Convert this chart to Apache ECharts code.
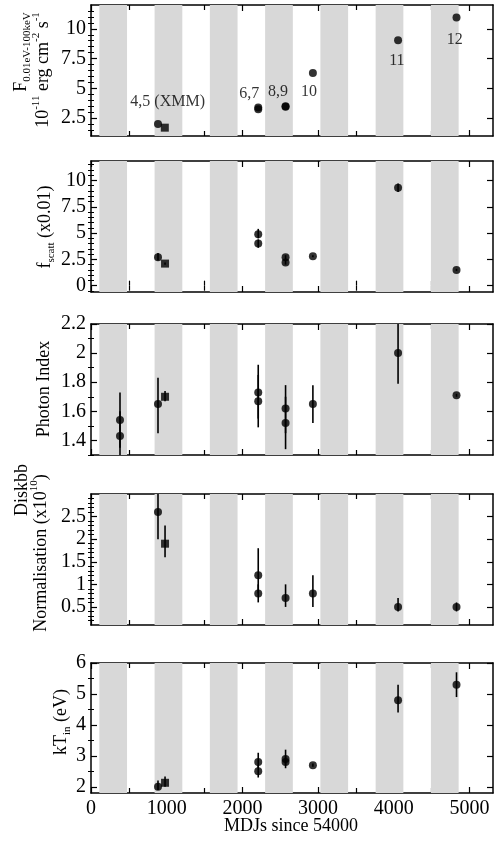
<!DOCTYPE html>
<html><head><meta charset="utf-8">
<script src="https://cdn.jsdelivr.net/npm/echarts@6/dist/echarts.min.js"></script>
<style>html,body{margin:0;padding:0;background:#fff}#c{width:495px;height:846px}</style>
</head><body><div id="c"></div>
<script>
const FONT = '"Liberation Serif", "DejaVu Serif", serif';

// ---------- DATA ----------
const xMajorTicks = [0, 1000, 2000, 3000, 4000, 5000];
const xMinorTicks = [500, 1500, 2500, 3500, 4500];
const seasonBands = [[110, 476], [840, 1206], [1570, 1936], [2300, 2666], [3030, 3396], [3760, 4126], [4490, 4856]];

// Panel 1: flux  [x, y, lo, hi]
const fluxCircles = [[885, 2.0, 2.0, 2.0], [2209, 3.4, 3.4, 3.4], [2209, 3.25, 3.25, 3.25], [2570, 3.45, 3.45, 3.45], [2570, 3.5, 3.5, 3.5], [2931, 6.3, 6.3, 6.3], [4056, 9.05, 9.05, 9.05], [4828, 10.95, 10.95, 10.95]];
const fluxSquares = [[975, 1.7, 1.7, 1.7]];
const fluxLabels = [['4,5 (XMM)', 1013, 3.84], ['6,7', 2090, 4.55], ['8,9', 2470, 4.67], ['10', 2880, 4.67], ['11', 4040, 7.3], ['12', 4806, 9.08]];
const fluxTicks = [2.5, 5, 7.5, 10];
const fluxMinor = [1.5, 2, 3, 3.5, 4, 4.5, 5.5, 6, 6.5, 7, 8, 8.5, 9, 9.5, 10.5, 11, 11.5];

// Panel 2: scattering fraction
const scatCircles = [[885, 2.7, 2.4, 3.1], [2209, 4.9, 4.5, 5.4], [2209, 4.0, 3.6, 4.4], [2570, 2.7, 2.5, 2.9], [2570, 2.2, 2.0, 2.4], [2931, 2.8, 2.7, 2.9], [4056, 9.3, 8.9, 9.7], [4828, 1.5, 1.4, 1.6]];
const scatSquares = [[978, 2.1, 2.0, 2.2]];
const scatTicks = [0, 2.5, 5, 7.5, 10];
const scatMinor = [-0.5, 0.5, 1, 1.5, 2, 3, 3.5, 4, 4.5, 5.5, 6, 6.5, 7, 8, 8.5, 9, 9.5, 10.5, 11, 11.5];

// Panel 3: photon index
const gamCircles = [[383, 1.54, 1.35, 1.73], [383, 1.43, 1.25, 1.6], [885, 1.65, 1.45, 1.83], [2209, 1.73, 1.55, 1.92], [2209, 1.67, 1.49, 1.85], [2570, 1.62, 1.45, 1.78], [2570, 1.52, 1.34, 1.70], [2931, 1.65, 1.52, 1.78], [4056, 2.0, 1.79, 2.25], [4828, 1.71, 1.70, 1.72]];
const gamSquares = [[978, 1.70, 1.67, 1.74]];
const gamTicks = [1.4, 1.6, 1.8, 2, 2.2];
const gamMinor = [1.3, 1.5, 1.7, 1.9, 2.1];

// Panel 4: diskbb normalisation
const normCircles = [[885, 2.6, 2.0, 3.3], [2209, 1.2, 0.8, 1.8], [2209, 0.8, 0.6, 1.0], [2570, 0.7, 0.5, 1.0], [2931, 0.8, 0.5, 1.2], [4056, 0.5, 0.4, 0.7], [4828, 0.5, 0.4, 0.6]];
const normSquares = [[978, 1.9, 1.6, 2.3]];
const normTicks = [0.5, 1, 1.5, 2, 2.5];
const normMinor = [0.2, 0.3, 0.4, 0.6, 0.7, 0.8, 0.9, 1.1, 1.2, 1.3, 1.4, 1.6, 1.7, 1.8, 1.9, 2.1, 2.2, 2.3, 2.4, 2.6, 2.7, 2.8, 2.9];

// Panel 5: inner disc temperature
const ktCircles = [[885, 2.0, 1.9, 2.2], [2209, 2.8, 2.6, 3.1], [2209, 2.5, 2.3, 2.7], [2570, 2.9, 2.7, 3.2], [2570, 2.8, 2.6, 3.0], [2931, 2.7, 2.65, 2.75], [4056, 4.8, 4.4, 5.3], [4828, 5.3, 4.9, 5.7]];
const ktSquares = [[978, 2.13, 2.0, 2.33]];
const ktTicks = [2, 3, 4, 5, 6];
const ktMinor = [2.5, 3.5, 4.5, 5.5];

// ---------- LAYOUT ----------
const xMin = 0, xMax = 5310;
const GL = 91, GW = 402;
const panels = [
  { top: 5,   height: 131, yMin: 1,    yMax: 12,   ticks: fluxTicks, minor: fluxMinor, circles: fluxCircles, squares: fluxSquares, labels: fluxLabels },
  { top: 161, height: 131, yMin: -0.6, yMax: 11.85, ticks: scatTicks, minor: scatMinor, circles: scatCircles, squares: scatSquares },
  { top: 324, height: 131, yMin: 1.3,  yMax: 2.2,  ticks: gamTicks,  minor: gamMinor,  circles: gamCircles,  squares: gamSquares },
  { top: 494, height: 131, yMin: 0.1,  yMax: 3.0,  ticks: normTicks, minor: normMinor, circles: normCircles, squares: normSquares },
  { top: 663, height: 130, yMin: 1.8,  yMax: 6.0,  ticks: ktTicks,   minor: ktMinor,   circles: ktCircles,   squares: ktSquares, xLabels: true }
];

const grid = [], xAxis = [], yAxis = [], series = [];
const lineStyle = { color: '#000', width: 1.5 };

function bandRender(params, api) {
  const cs = params.coordSys;
  const a = api.coord([api.value(0), 0]);
  const b = api.coord([api.value(1), 0]);
  return { type: 'rect', shape: { x: a[0], y: cs.y, width: b[0] - a[0], height: cs.height }, style: { fill: '#d8d8d8' } };
}
function errRender(params, api) {
  const x = api.value(0);
  const p1 = api.coord([x, api.value(2)]);
  const p2 = api.coord([x, api.value(3)]);
  return { type: 'line', shape: { x1: p1[0], y1: p1[1], x2: p2[0], y2: p2[1] }, style: { stroke: '#000', lineWidth: 1.6 } };
}

panels.forEach((p, i) => {
  grid.push({ left: GL, width: GW, top: p.top, height: p.height });
  grid.push({ left: GL, width: GW, top: p.top, height: p.height });
  const gMain = 2 * i, gMin = 2 * i + 1;
  const xb = xAxis.length;
  xAxis.push({ gridIndex: gMain, type: 'value', min: xMin, max: xMax, position: 'bottom',
    axisLine: { show: true, onZero: false, lineStyle },
    axisTick: { show: true, inside: true, length: 6, customValues: xMajorTicks, lineStyle: { color: '#000', width: 1.2 } },
    axisLabel: { show: !!p.xLabels, customValues: xMajorTicks, formatter: v => String(v), color: '#000', fontFamily: FONT, fontSize: 20, margin: 6 },
    splitLine: { show: false } });
  xAxis.push({ gridIndex: gMain, type: 'value', min: xMin, max: xMax, position: 'top',
    axisLine: { show: true, onZero: false, lineStyle },
    axisTick: { show: true, inside: true, length: 6, customValues: xMajorTicks, lineStyle: { color: '#000', width: 1.2 } },
    axisLabel: { show: false }, splitLine: { show: false } });
  xAxis.push({ gridIndex: gMin, type: 'value', min: xMin, max: xMax, position: 'bottom',
    axisLine: { show: false },
    axisTick: { show: true, inside: true, length: 5, customValues: xMinorTicks, lineStyle: { color: '#000', width: 1.2 } },
    axisLabel: { show: false }, splitLine: { show: false } });
  xAxis.push({ gridIndex: gMin, type: 'value', min: xMin, max: xMax, position: 'top',
    axisLine: { show: false },
    axisTick: { show: true, inside: true, length: 5, customValues: xMinorTicks, lineStyle: { color: '#000', width: 1.2 } },
    axisLabel: { show: false }, splitLine: { show: false } });

  const yb = yAxis.length;
  yAxis.push({ gridIndex: gMain, type: 'value', min: p.yMin, max: p.yMax, position: 'left',
    axisLine: { show: true, onZero: false, lineStyle },
    axisTick: { show: true, inside: true, length: 6, customValues: p.ticks, lineStyle: { color: '#000', width: 1.2 } },
    axisLabel: { show: true, customValues: p.ticks, color: '#000', fontFamily: FONT, fontSize: 20, margin: 5 },
    splitLine: { show: false } });
  yAxis.push({ gridIndex: gMain, type: 'value', min: p.yMin, max: p.yMax, position: 'right',
    axisLine: { show: true, onZero: false, lineStyle },
    axisTick: { show: true, inside: true, length: 6, customValues: p.ticks, lineStyle: { color: '#000', width: 1.2 } },
    axisLabel: { show: false }, splitLine: { show: false } });
  yAxis.push({ gridIndex: gMin, type: 'value', min: p.yMin, max: p.yMax, position: 'left',
    axisLine: { show: false },
    axisTick: { show: true, inside: true, length: 3, customValues: p.minor, lineStyle: { color: '#000', width: 1 } },
    axisLabel: { show: false }, splitLine: { show: false } });
  yAxis.push({ gridIndex: gMin, type: 'value', min: p.yMin, max: p.yMax, position: 'right',
    axisLine: { show: false },
    axisTick: { show: true, inside: true, length: 3, customValues: p.minor, lineStyle: { color: '#000', width: 1 } },
    axisLabel: { show: false }, splitLine: { show: false } });

  const base = { xAxisIndex: xb, yAxisIndex: yb };
  series.push(Object.assign({ type: 'custom', data: seasonBands, renderItem: bandRender, clip: true, silent: true, z: 1, encode: { x: [0, 1] } }, base));
  series.push(Object.assign({ type: 'custom', data: p.circles.concat(p.squares), renderItem: errRender, clip: true, silent: true, z: 3, encode: { x: 0, y: [1, 2, 3] } }, base));
  series.push(Object.assign({ type: 'scatter', data: p.circles.map(d => [d[0], d[1]]), symbol: 'circle', symbolSize: 8, itemStyle: { color: '#000' }, z: 4, silent: true }, base));
  series.push(Object.assign({ type: 'scatter', data: p.squares.map(d => [d[0], d[1]]), symbol: 'rect', symbolSize: 8, itemStyle: { color: '#000' }, z: 4, silent: true }, base));
  if (p.labels) {
    series.push(Object.assign({ type: 'scatter', symbolSize: 0, z: 5, silent: true,
      data: p.labels.map(l => ({ name: l[0], value: [l[1], l[2]] })),
      label: { show: true, position: 'inside', formatter: '{b}', color: '#000', fontFamily: FONT, fontSize: 16 } }, base));
  }
  series.push({ type: 'scatter', xAxisIndex: xb + 2, yAxisIndex: yb + 2, data: [], silent: true });
  series.push({ type: 'scatter', xAxisIndex: xb + 3, yAxisIndex: yb + 3, data: [], silent: true });
});

const rich = {
  n: { fontFamily: FONT, fontSize: 18, lineHeight: 24, color: '#000' },
  s: { fontFamily: FONT, fontSize: 11, lineHeight: 12, verticalAlign: 'bottom', color: '#000' },
  p: { fontFamily: FONT, fontSize: 11, lineHeight: 12, verticalAlign: 'top', color: '#000' }
};
function vText(x, y, text) {
  return { type: 'text', x, y, rotation: Math.PI / 2, silent: true,
    style: { text, rich, align: 'center', verticalAlign: 'middle', fontFamily: FONT, fontSize: 18, fill: '#000' } };
}
const graphic = [
  vText(21, 52, '{n|F}{s|0.01eV-100keV}'),
  vText(43, 70, '{n|10}{p|-11}{n| erg cm}{p|-2}{n| s}{p|-1}'),
  vText(45, 227, '{n|f}{s|scatt}{n| (x0.01)}'),
  vText(44, 389, '{n|Photon Index}'),
  vText(22, 490, '{n|Diskbb}'),
  vText(41, 553, '{n|Normalisation (x10}{p|10}{n|)}'),
  vText(61, 722, '{n|kT}{s|in}{n| (eV)}'),
  { type: 'text', x: 291, y: 826, silent: true, style: { text: 'MDJs since 54000', align: 'center', verticalAlign: 'middle', fontFamily: FONT, fontSize: 18, fill: '#000' } }
];

const chart = echarts.init(document.getElementById('c'), null, { renderer: 'canvas' });
chart.setOption({ animation: false, backgroundColor: '#fff', grid, xAxis, yAxis, series, graphic });
</script>
</body></html>
